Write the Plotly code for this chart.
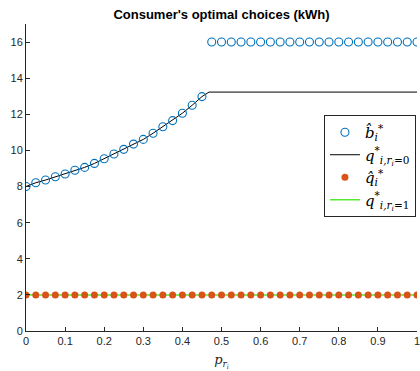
import plotly.graph_objects as go

# data
p_vals = [round(i * 0.025, 3) for i in range(41)]
b_hat = [8.0, 8.21, 8.36, 8.54, 8.69, 8.90, 9.06, 9.28, 9.54, 9.80, 10.06, 10.35,
         10.61, 10.95, 11.31, 11.65, 12.06, 12.50, 12.98] + [16.0] * 22
q0_p = [round(i * 0.025, 3) for i in range(19)] + [0.468, 1.0]
q0_vals = [8.0, 8.21, 8.36, 8.54, 8.69, 8.90, 9.06, 9.28, 9.54, 9.80, 10.06, 10.35,
           10.61, 10.95, 11.31, 11.65, 12.06, 12.50, 12.98, 13.23, 13.23]
q_hat = [2.0] * 41
q1_p = [0.0, 1.0]
q1_vals = [2.0, 2.0]
x_ticks = [0, 0.1, 0.2, 0.3, 0.4, 0.5, 0.6, 0.7, 0.8, 0.9, 1]
x_tick_labels = ["0", "0.1", "0.2", "0.3", "0.4", "0.5", "0.6", "0.7", "0.8", "0.9", "1"]
y_ticks = [0, 2, 4, 6, 8, 10, 12, 14, 16]

fig = go.Figure()
fig.add_trace(go.Scatter(
    x=q0_p, y=q0_vals, mode="lines",
    name="<i>q</i><sup>*</sup><sub><i>i,r<sub>i</sub></i>=0</sub>",
    line=dict(color="black", width=1),
    legendrank=2,
))
fig.add_trace(go.Scatter(
    x=p_vals, y=b_hat, mode="markers", name="<i>b̂</i><sub><i>i</i></sub><sup>*</sup>",
    marker=dict(symbol="circle-open", size=8, color="#0072BD", line=dict(width=1.1)),
    legendrank=1,
))
fig.add_trace(go.Scatter(
    x=q1_p, y=q1_vals, mode="lines",
    name="<i>q</i><sup>*</sup><sub><i>i,r<sub>i</sub></i>=1</sub>",
    line=dict(color="#55e833", width=1.5),
    legendrank=4,
))
fig.add_trace(go.Scatter(
    x=p_vals, y=q_hat, mode="markers", name="<i>q̂</i><sub><i>i</i></sub><sup>*</sup>",
    marker=dict(symbol="circle", size=7, color="#D95319"),
    legendrank=3,
))

fig.update_layout(
    width=420, height=371,
    margin=dict(l=26, r=3, t=24, b=40, autoexpand=False),
    paper_bgcolor="white", plot_bgcolor="white",
    title=dict(text="<b>Consumer's optimal choices (kWh)</b>", x=0.5, xref="paper",
               xanchor="center", y=1 - 14 / 371, yanchor="middle",
               font=dict(family="Liberation Sans, Arial", size=13, color="black")),
    font=dict(family="Liberation Sans, Arial", size=11, color="#262626"),
    showlegend=True,
    legend=dict(x=0.762, y=0.7036, xanchor="left", yanchor="top",
                bgcolor="white", bordercolor="#262626", borderwidth=1,
                font=dict(family="DejaVu Serif", size=15, color="black"),
                traceorder="normal", itemwidth=30,
                tracegroupgap=0),
    xaxis=dict(range=[0, 1.00001], tickvals=x_ticks, ticktext=x_tick_labels,
               ticklabeloverflow="allow", automargin=True,
               showgrid=False, zeroline=False, showline=True, linecolor="#262626",
               linewidth=1, ticks="inside", ticklen=4, tickcolor="#262626",
               title=dict(text="<i>p</i><sub><i>r<sub>i</sub></i></sub>", standoff=13,
                          font=dict(family="DejaVu Serif", size=13, color="#262626"))),
    yaxis=dict(range=[0, 17], tickvals=y_ticks, showgrid=False, zeroline=False,
               automargin=False,
               showline=True, linecolor="#262626", linewidth=1, ticks="inside",
               ticklen=4, tickcolor="#262626"),
)
fig.write_html("out.html")
